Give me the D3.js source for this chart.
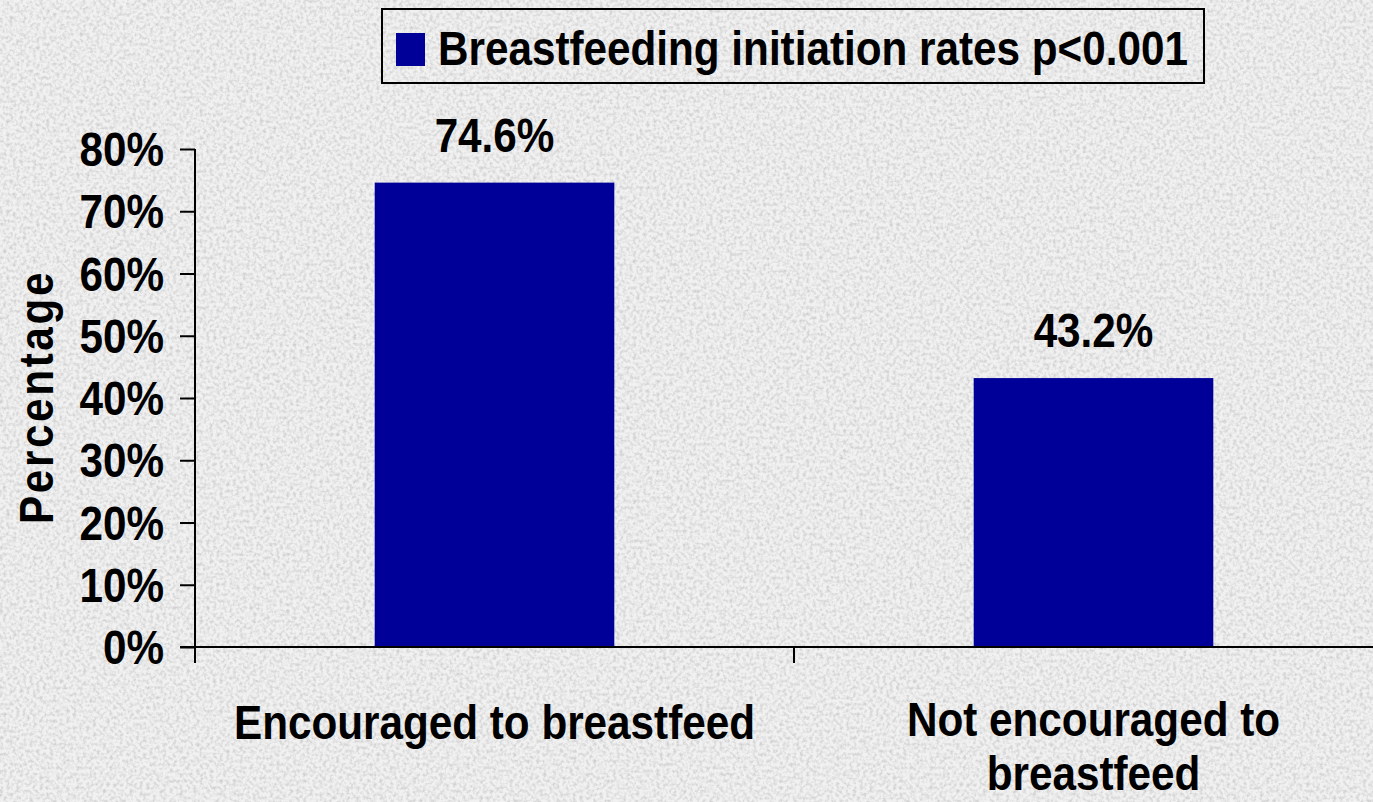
<!DOCTYPE html>
<html>
<head>
<meta charset="utf-8">
<script src="https://cdn.jsdelivr.net/npm/d3@7.9.0/dist/d3.min.js"></script>
<style>
  html, body { margin: 0; padding: 0; overflow: hidden; }
  svg { display: block; }
  text { font-family: "Liberation Sans", Arial, sans-serif; font-weight: bold; fill: #000; }
</style>
</head>
<body>
<svg id="chart" width="1373" height="802"></svg>
<script>
// chart data
const categories = [["Encouraged to breastfeed"], ["Not encouraged to", "breastfeed"]];
const rates = [0.746, 0.432];
const rateLabels = ["74.6%", "43.2%"];
const yTicks = [0, 0.1, 0.2, 0.3, 0.4, 0.5, 0.6, 0.7, 0.8];
const legendLabel = "Breastfeeding initiation rates p<0.001";
const yTitle = "Percentage";

const W = 1373, H = 802;
const barColor = "#000099";
const fontSize = 48;
const squeeze = 0.88; // text looks horizontally condensed

const svg = d3.select("#chart");

// textured grey background
const defs = svg.append("defs");
const f = defs.append("filter").attr("id", "grain")
    .attr("x", 0).attr("y", 0).attr("width", "100%").attr("height", "100%");
f.append("feTurbulence").attr("type", "fractalNoise")
    .attr("baseFrequency", 0.3).attr("numOctaves", 2).attr("seed", 3);
f.append("feColorMatrix").attr("type", "matrix")
    .attr("values", "0 0 0 0 0.5  0 0 0 0 0.5  0 0 0 0 0.5  0 0 0 -2 1.2");
svg.append("rect").attr("width", W).attr("height", H).attr("fill", "#f1f1f1");
svg.append("rect").attr("width", W).attr("height", H).attr("filter", "url(#grain)").attr("opacity", 0.7);

// scales
const x = d3.scaleBand().domain(d3.range(categories.length)).range([195, 1393]).padding(0);
const y = d3.scaleLinear().domain([0, 0.8]).range([647, 149]);
const barW = x.bandwidth() * 0.4;

function label(g, tx, ty, str, anchor) {
    return g.append("text")
        .attr("transform", `translate(${tx},${ty}) scale(${squeeze},1)`)
        .attr("text-anchor", anchor || "middle")
        .style("font-size", fontSize + "px")
        .text(str);
}

// bars
svg.selectAll("rect.bar")
    .data(rates)
    .join("rect")
    .attr("class", "bar")
    .attr("x", (d, i) => x(i) + x.bandwidth() / 2 - barW / 2)
    .attr("width", barW)
    .attr("y", d => y(d))
    .attr("height", d => y(0) - y(d))
    .attr("fill", barColor);

// value labels above bars
rates.forEach((d, i) => {
    label(svg, x(i) + x.bandwidth() / 2, y(d) - 31, rateLabels[i]);
});

// y axis
const yAxis = d3.axisLeft(y).tickValues(yTicks).tickFormat(d3.format(".0%"))
    .tickSize(15).tickSizeOuter(0).tickPadding(0);
const gy = svg.append("g").attr("transform", "translate(195,0)").call(yAxis);
gy.select(".domain").remove();
gy.selectAll(".tick line").attr("stroke", "#000").attr("stroke-width", 2);
gy.selectAll(".tick text").remove();
yTicks.forEach(t => {
    label(svg, 164, y(t) + 17, d3.format(".0%")(t), "end");
});
svg.append("line").attr("x1", 195).attr("x2", 195)
    .attr("y1", y(0.8)).attr("y2", y(0) + 16)
    .attr("stroke", "#000").attr("stroke-width", 2);

// x axis
svg.append("line").attr("x1", 180).attr("x2", W)
    .attr("y1", y(0)).attr("y2", y(0))
    .attr("stroke", "#000").attr("stroke-width", 2);
x.domain().slice(1).forEach(i => {
    svg.append("line").attr("x1", x(i)).attr("x2", x(i))
        .attr("y1", y(0)).attr("y2", y(0) + 16)
        .attr("stroke", "#000").attr("stroke-width", 2);
});

// category labels
const catBase = [739, 736];
categories.forEach((lines, i) => {
    lines.forEach((ln, j) => {
        label(svg, x(i) + x.bandwidth() / 2, catBase[i] + j * 54, ln);
    });
});

// y title
svg.append("text")
    .attr("transform", `translate(53,397) rotate(-90) scale(${squeeze},1)`)
    .attr("text-anchor", "middle")
    .style("font-size", fontSize + "px")
    .style("letter-spacing", "3px")
    .text(yTitle);

// legend
const lg = svg.append("g");
lg.append("rect").attr("x", 382).attr("y", 9).attr("width", 822).attr("height", 74)
    .attr("fill", "none").attr("stroke", "#000").attr("stroke-width", 2);
lg.append("rect").attr("x", 396).attr("y", 33).attr("width", 29).attr("height", 33)
    .attr("fill", barColor);
label(lg, 438, 65, legendLabel, "start");
</script>
</body>
</html>
